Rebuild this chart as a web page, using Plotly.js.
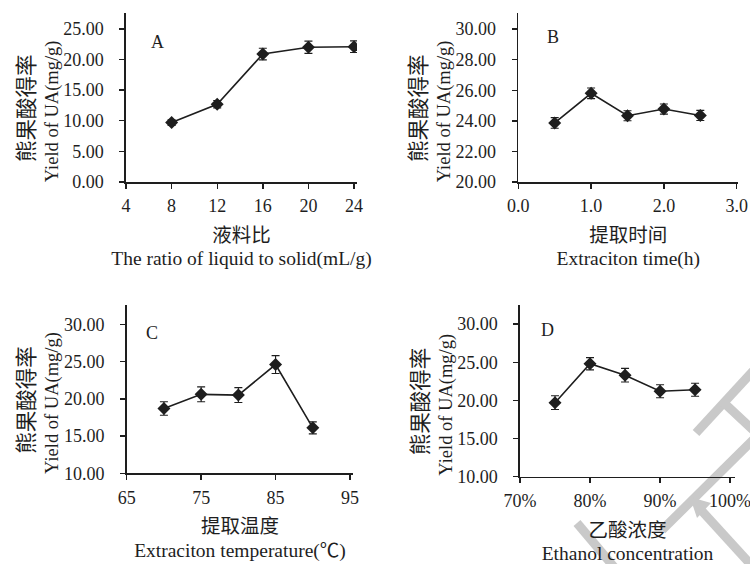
<!DOCTYPE html>
<html>
<head>
<meta charset="utf-8">
<script src="https://cdn.plot.ly/plotly-3.0.1.min.js"></script>
<style>html,body{margin:0;padding:0;background:#fff;}#chart{width:750px;height:564px;}</style>
</head>
<body>
<div id="chart"></div>
<script>
// ---- data ----
const ratioX = [8, 12, 16, 20, 24];
const ratioY = [9.7, 12.7, 20.9, 22.0, 22.1];
const ratioErr = [0.45, 0.6, 0.95, 1.0, 0.95];

const timeX = [0.5, 1.0, 1.5, 2.0, 2.5];
const timeY = [23.86, 25.8, 24.33, 24.77, 24.35];
const timeErr = [0.35, 0.35, 0.33, 0.33, 0.33];

const tempX = [70, 75, 80, 85, 90];
const tempY = [18.7, 20.6, 20.5, 24.6, 16.1];
const tempErr = [0.9, 1.0, 1.0, 1.2, 0.8];

const concX = [0.75, 0.80, 0.85, 0.90, 0.95];
const concY = [19.7, 24.8, 23.3, 21.2, 21.4];
const concErr = [0.9, 0.8, 0.9, 0.85, 0.85];

const panelLabels = ['A', 'B', 'C', 'D'];
const yTitleCn = '熊果酸得率';
const yTitleEn = 'Yield of UA(mg/g)';
const xTitlesCn = ['液料比', '提取时间', '提取温度', '乙酸浓度'];
const xTitlesEn = ['The ratio of liquid to solid(mL/g)', 'Extraciton time(h)', 'Extraciton temperature(℃)', 'Ethanol concentration'];

// ---- style ----
const W = 750, H = 564;
const INK = '#1e1e1e';
const FONT = 'Liberation Serif, Noto Sans CJK SC, serif';
const px = v => v / W;
const py = v => 1 - v / H;

function trace(x, y, e, xa, ya) {
  return {
    type: 'scatter', mode: 'lines+markers', x: x, y: y,
    xaxis: xa, yaxis: ya,
    line: {color: INK, width: 1.6},
    marker: {symbol: 'diamond', size: 10, color: INK},
    error_y: {type: 'data', array: e, visible: true, color: INK, thickness: 1.1, width: 4},
    showlegend: false, hoverinfo: 'x+y'
  };
}

const data = [
  trace(ratioX, ratioY, ratioErr, 'x', 'y'),
  trace(timeX, timeY, timeErr, 'x2', 'y2'),
  trace(tempX, tempY, tempErr, 'x3', 'y3'),
  trace(concX, concY, concErr, 'x4', 'y4')
];

function xTitle(i) {
  return {text: '<span style="font-size:19.5px">' + xTitlesCn[i] + '</span><br><span style="font-size:19.5px">' + xTitlesEn[i] + '</span>',
          font: {family: FONT, size: 18, color: INK}, standoff: 14};
}
const yTitle = {text: '<span style="font-size:21.5px">' + yTitleCn + '&nbsp;&nbsp;&nbsp;&nbsp;</span><br><span style="font-size:18.5px">' + yTitleEn + '&nbsp;&nbsp;&nbsp;&nbsp;&nbsp;&nbsp;</span>',
                font: {family: FONT, size: 18.5, color: INK}, standoff: 0};

function xax(i, dom, range, dtick, tick0, fmt, anchor) {
  return {
    domain: dom, range: range, dtick: dtick, tick0: tick0, tickmode: 'linear', tickformat: fmt,
    anchor: anchor, showgrid: false, zeroline: false, showline: true, linecolor: INK, linewidth: 1.6,
    ticks: 'outside', ticklen: 5, tickwidth: 1.4, tickcolor: INK, ticklabelstandoff: 2,
    ticklabeloverflow: 'allow',
    tickfont: {family: 'Liberation Serif', size: 18, color: INK}, title: xTitle(i), fixedrange: true
  };
}
function yax(dom, range, dtick, tick0, anchor) {
  return {
    domain: dom, range: range, dtick: dtick, tick0: tick0, tickmode: 'linear', tickformat: '.2f',
    anchor: anchor, showgrid: false, zeroline: false, showline: true, linecolor: INK, linewidth: 1.6,
    ticks: 'outside', ticklen: 5, tickwidth: 1.4, tickcolor: INK, ticklabelstandoff: 12,
    tickfont: {family: 'Liberation Serif', size: 18, color: INK}, title: yTitle, fixedrange: true
  };
}

// watermark strokes (decorative overlay in the reference)
const WM = '#c9c9c9';
function wline(x0, y0, x1, y1, w) {
  return {type: 'line', xref: 'paper', yref: 'paper', x0: px(x0), y0: py(y0), x1: px(x1), y1: py(y1),
          line: {color: WM, width: w}, layer: 'below'};
}
const shapes = [
  wline(696, 433, 753, 371, 9),
  wline(722, 401, 753, 430, 9),
  wline(753, 440, 662, 530, 9),
  wline(701, 510, 753, 567, 9),
  wline(577, 523, 614, 567, 9),
  {type: 'path', xref: 'paper', yref: 'paper', layer: 'below', fillcolor: WM, line: {width: 0},
   path: 'M ' + px(690) + ' ' + py(497) + ' L ' + px(711) + ' ' + py(503) + ' L ' + px(697) + ' ' + py(518) + ' Z'}
];

const annotations = [
  [157, 42], [553, 37], [152, 333], [547, 330]
].map((p, i) => ({
  text: panelLabels[i], xref: 'paper', yref: 'paper', x: px(p[0]), y: py(p[1]),
  xanchor: 'center', yanchor: 'middle', showarrow: false,
  font: {family: 'Liberation Serif', size: 18, color: INK}
}));

const layout = {
  width: W, height: H,
  margin: {l: 0, r: 0, t: 0, b: 0},
  paper_bgcolor: '#ffffff', plot_bgcolor: 'rgba(0,0,0,0)',
  showlegend: false,
  xaxis:  xax(0, [px(126), px(357)], [4, 24.26], 4, 4, 'd', 'y'),
  yaxis:  yax([py(182), py(13)], [0, 27.6], 5, 0, 'x'),
  xaxis2: xax(1, [px(518.3), px(738.3)], [0, 3.022], 1, 0, '.1f', 'y2'),
  yaxis2: yax([py(182), py(13)], [20, 31.05], 2, 20, 'x2'),
  xaxis3: xax(2, [px(126.7), px(353.3)], [65, 95.44], 10, 65, 'd', 'y3'),
  yaxis3: yax([py(473.3), py(305)], [10, 32.6], 5, 10, 'x3'),
  xaxis4: xax(3, [px(520), px(735)], [0.7, 1.007], 0.1, 0.7, '.0%', 'y4'),
  yaxis4: yax([py(476.7), py(305)], [10, 32.5], 5, 10, 'x4'),
  shapes: shapes,
  annotations: annotations
};

Plotly.newPlot('chart', data, layout, {displayModeBar: false, staticPlot: true});
</script>
</body>
</html>
